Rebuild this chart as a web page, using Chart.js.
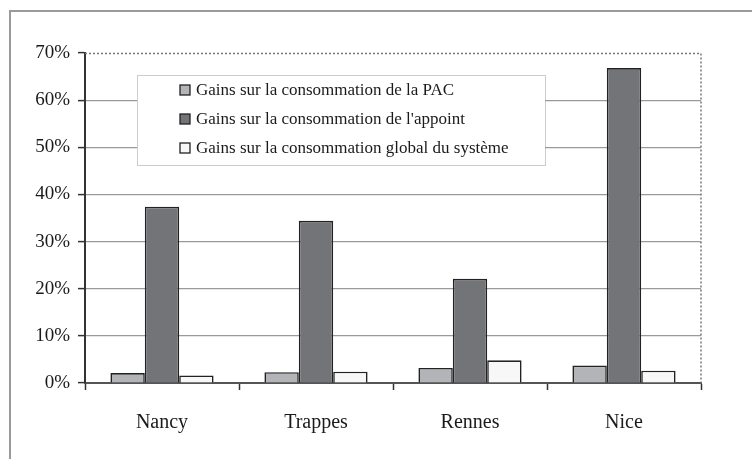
<!DOCTYPE html>
<html>
<head>
<meta charset="utf-8">
<script src="https://cdn.jsdelivr.net/npm/chart.js@4"></script>
<style>
  html, body { margin: 0; padding: 0; background: #fff; }
  #wrap { position: relative; width: 752px; height: 459px; overflow: hidden; }
  #frame { position: absolute; left: 9px; top: 10px; width: 800px; height: 500px; border: 2px solid #9a9a9a; box-sizing: border-box; }
  canvas { position: absolute; left: 0; top: 0; }
</style>
</head>
<body>
<div id="wrap">
  <div id="frame"></div>
  <canvas id="gains" width="752" height="459"></canvas>
</div>
<script>
const villes = ['Nancy', 'Trappes', 'Rennes', 'Nice'];
const gainsPAC = [2.1, 2.3, 3.2, 3.7];
const gainsAppoint = [37.4, 34.4, 22.1, 66.8];
const gainsGlobal = [1.6, 2.4, 4.8, 2.6];
const yTicks = [0, 10, 20, 30, 40, 50, 60, 70];

const serif = "'Liberation Serif', 'DejaVu Serif', serif";

// dotted frame on top/right of the plot area
const plotFrame = {
    id: 'plotFrame',
    beforeDatasetsDraw(chart) {
        const { ctx, chartArea: a } = chart;
        ctx.save();
        ctx.strokeStyle = '#777';
        ctx.lineWidth = 1.5;
        ctx.setLineDash([2, 2]);
        ctx.beginPath();
        ctx.moveTo(a.left, a.top + 0.5);
        ctx.lineTo(a.right, a.top + 0.5);
        ctx.lineTo(a.right, a.bottom);
        ctx.stroke();
        ctx.restore();
    }
};

// legend box drawn inside the plot
const boxLegend = {
    id: 'boxLegend',
    afterDatasetsDraw(chart) {
        const { ctx, chartArea: a } = chart;
        const x = a.left + 52, y = a.top + 22, w = 408, h = 90;
        ctx.save();
        ctx.fillStyle = '#fff';
        ctx.fillRect(x, y, w, h);
        ctx.strokeStyle = '#999';
        ctx.lineWidth = 1;
        ctx.setLineDash([1, 1]);
        ctx.strokeRect(x + 0.5, y + 0.5, w, h);
        ctx.setLineDash([]);
        ctx.font = '17px ' + serif;
        ctx.textBaseline = 'middle';
        chart.data.datasets.forEach((ds, i) => {
            const cy = y + 15 + i * 29;
            ctx.fillStyle = ds.backgroundColor;
            ctx.fillRect(x + 43, cy - 5, 10, 10);
            ctx.strokeStyle = '#222';
            ctx.lineWidth = 1.3;
            ctx.strokeRect(x + 43, cy - 5, 10, 10);
            ctx.fillStyle = '#1a1a1a';
            ctx.fillText(ds.label, x + 59, cy + 1);
        });
        ctx.restore();
    }
};

new Chart(document.getElementById('gains'), {
    type: 'bar',
    data: {
        labels: villes,
        datasets: [
            { label: 'Gains sur la consommation de la PAC', data: gainsPAC, backgroundColor: '#b3b4b8' },
            { label: "Gains sur la consommation de l'appoint", data: gainsAppoint, backgroundColor: '#737478' },
            { label: 'Gains sur la consommation global du système', data: gainsGlobal, backgroundColor: '#f7f7f7' }
        ]
    },
    options: {
        responsive: false,
        animation: false,
        layout: { padding: { top: 53, right: 51, bottom: 0, left: 0 } },
        datasets: {
            bar: {
                borderColor: '#222',
                borderWidth: 1.6,
                categoryPercentage: 0.67,
                barPercentage: 1
            }
        },
        plugins: {
            legend: { display: false },
            tooltip: { enabled: false }
        },
        scales: {
            x: {
                afterFit(scale) { scale.height = 76; },
                grid: { drawOnChartArea: false, drawTicks: true, tickLength: 7, tickColor: '#333', tickWidth: 1.5 },
                border: { color: '#555', width: 2, dash: [4, 2] },
                ticks: { padding: 21, color: '#1a1a1a', font: { family: serif, size: 20 } }
            },
            y: {
                min: 0,
                max: 70,
                afterFit(scale) { scale.width = 85; },
                afterBuildTicks(scale) { scale.ticks = yTicks.map(v => ({ value: v })); },
                grid: {
                    color: c => (c.tick && (c.tick.value === 0 || c.tick.value === 70)) ? 'rgba(0,0,0,0)' : '#9a9a9a',
                    lineWidth: 1.2,
                    tickLength: 7,
                    tickColor: '#333',
                    tickWidth: 1.5
                },
                border: { color: '#333', width: 2 },
                ticks: {
                    padding: 8,
                    color: '#1a1a1a',
                    font: { family: serif, size: 19 },
                    callback: v => v + '%'
                }
            }
        }
    },
    plugins: [plotFrame, boxLegend]
});
</script>
</body>
</html>
